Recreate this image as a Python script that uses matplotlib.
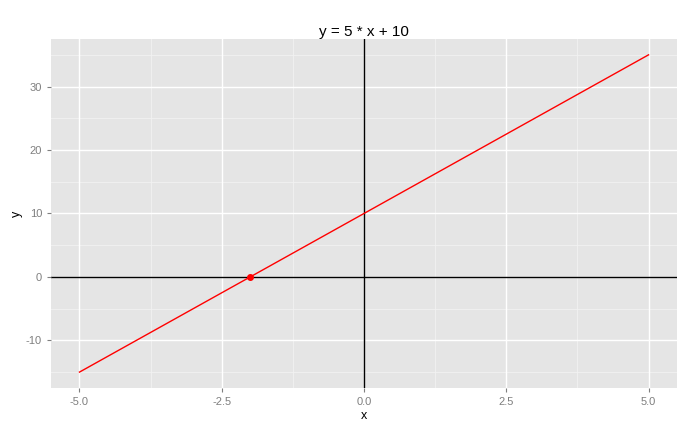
import matplotlib
matplotlib.use("Agg")
import matplotlib.pyplot as plt
import numpy as np

plt.rcParams["font.family"] = ["Liberation Sans", "DejaVu Sans"]
plt.rcParams["axes.unicode_minus"] = False

# line y = 5 * x + 10 and its root
x_vals = [-5, 5]
y_vals = [-15, 35]
root_x = [-2]
root_y = [0]

x_ticks = [-5.0, -2.5, 0.0, 2.5, 5.0]
x_minor = [-3.75, -1.25, 1.25, 3.75]
y_ticks = [-10, 0, 10, 20, 30]
y_minor = [-15, -5, 5, 15, 25, 35]

fig = plt.figure(figsize=(6.94, 4.33), dpi=100)
ax = fig.add_axes([0.0735, 0.104, 0.902, 0.806])
ax.set_facecolor("#e5e5e5")

for v in x_minor:
    ax.axvline(v, color="#f2f2f2", lw=0.6, zorder=0)
for v in y_minor:
    ax.axhline(v, color="#f2f2f2", lw=0.6, zorder=0)
for v in x_ticks:
    ax.axvline(v, color="white", lw=1.0, zorder=0)
for v in y_ticks:
    ax.axhline(v, color="white", lw=1.0, zorder=0)

ax.axhline(0, color="black", lw=1.0, zorder=1)
ax.axvline(0, color="black", lw=1.0, zorder=1)

ax.plot(x_vals, y_vals, color="red", lw=1.0, zorder=2)
ax.plot(root_x, root_y, "o", color="red", ms=4, zorder=3)

ax.set_xlim(-5.5, 5.5)
ax.set_ylim(-17.5, 37.5)
ax.set_xticks(x_ticks)
ax.set_xticklabels(["-5.0", "-2.5", "0.0", "2.5", "5.0"])
ax.set_yticks(y_ticks)
for s in ax.spines.values():
    s.set_visible(False)
ax.tick_params(colors="#7f7f7f", labelcolor="#7f7f7f", labelsize=8, length=3, width=0.8)

ax.set_title("y = 5 * x + 10", fontsize=11, pad=2)
ax.set_xlabel("x", fontsize=9, labelpad=2)
ax.set_ylabel("y", fontsize=9, labelpad=2)

fig.savefig("out.png", dpi=100)
